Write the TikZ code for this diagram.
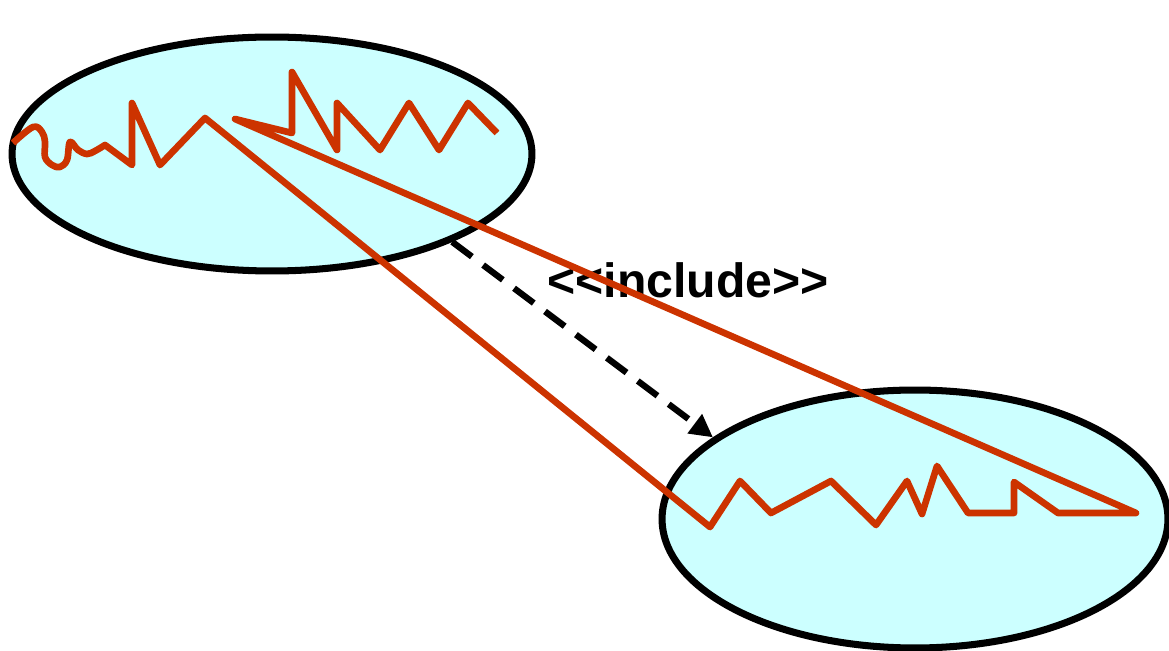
\documentclass[tikz,border=0pt]{standalone}
\usepackage{fontspec}
\setmainfont{Liberation Sans}
\usetikzlibrary{arrows.meta,shapes.geometric}
\definecolor{ucfill}{HTML}{CCFFFF}
\definecolor{sigred}{HTML}{CC3300}

\begin{document}
\begin{tikzpicture}[x=0.02cm,y=-0.02cm,
                    use case/.style={ellipse,draw,fill=ucfill,line width=4pt,inner sep=0pt},
                    dep/.style={-{Triangle[length=13pt,width=13pt]},dash pattern=on 14pt off 8pt,line width=3.6pt},
                    sig/.style={draw=sigred,line width=3.8pt,line join=round}]
  \useasboundingbox (0,0) rectangle (1169,651);

  \node[use case,minimum width=10.4cm,minimum height=4.68cm] (base) at (272,154) {};
  \node[use case,minimum width=10.12cm,minimum height=5.16cm] (incl) at (915,519) {};

  \draw[dep] (base.-26) -- (incl.158);
  \node[font=\fontsize{27.4}{32}\selectfont\bfseries] (lbl) at (688,280) {<\kern0pt<include>\kern0pt>};

  % scribble over both use cases
  \draw[sig] plot[smooth,tension=0.6] coordinates {(13,143) (33,127) (42,132) (45,142) (45,157) (52,165)
      (60,167) (67,160) (70,142) (78,150) (87,154) (95,151) (105,145)}
    -- (132,165) -- (132,103) -- (160,165) -- (205,118)
    -- (710,527) -- (740,481) -- (771,513) -- (831,481) -- (876,525) -- (907,481)
    -- (922,514) -- (937,466) -- (968,513) -- (1014,513) -- (1014,482) -- (1058,513) -- (1136,513)
    -- (235,119) -- (292,133) -- (292,72) -- (337,150) -- (337,103) -- (380,150)
    -- (409,103) -- (439,150) -- (468,103) -- (497,133);
\end{tikzpicture}
\end{document}
